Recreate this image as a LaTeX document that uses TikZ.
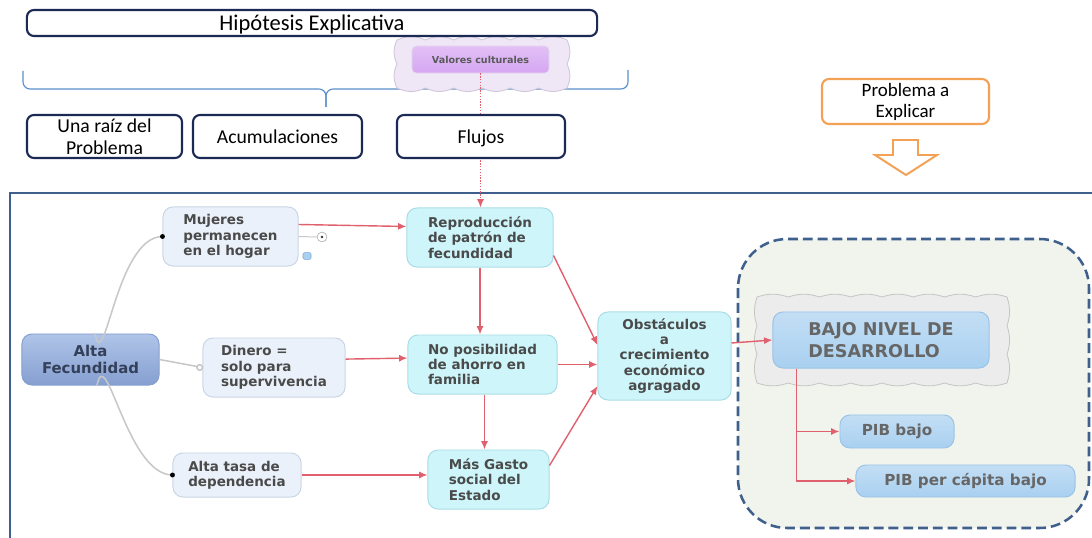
\documentclass[tikz,border=0pt]{standalone}
\usepackage{fontspec}
\setmainfont{Carlito}
\newfontfamily\mapfont{DejaVu Sans}
\usetikzlibrary{arrows.meta}

\definecolor{navyline}{HTML}{1B2A55}
\definecolor{braceblue}{HTML}{5B8FCB}
\definecolor{orangeline}{HTML}{F2A155}
\definecolor{frameblue}{HTML}{3F5F8C}
\definecolor{linkred}{HTML}{E0606E}
\definecolor{stemgray}{HTML}{C8C8C8}
\definecolor{mindfill}{HTML}{EAF1FA}
\definecolor{mindedge}{HTML}{C9D5E5}
\definecolor{flowfill}{HTML}{CDF5FA}
\definecolor{flowedge}{HTML}{A9DCE6}
\definecolor{rootlight}{HTML}{AFC4E8}
\definecolor{rootdark}{HTML}{859FD0}
\definecolor{roottext}{HTML}{34405A}
\definecolor{goalfill}{HTML}{A9D0F0}
\definecolor{goaledge}{HTML}{9AC3E6}
\definecolor{cloudfill}{HTML}{ECECEC}
\definecolor{cloudedge}{HTML}{C6C6C6}
\definecolor{lilacfill}{HTML}{EFE6F6}
\definecolor{lilacedge}{HTML}{CFC6D8}
\definecolor{violetfill}{HTML}{D5A6F2}
\definecolor{panelfill}{HTML}{F1F4EC}
\definecolor{labelgray}{HTML}{4A4A4A}

\begin{document}
\begin{tikzpicture}[x=0.025cm,y=-0.025cm,
  topbox/.style={draw=navyline,line width=1.5pt,rounded corners=5pt,fill=white,
    align=center,inner sep=1pt,font=\fontsize{14}{15.5}\selectfont},
  mindbox/.style={draw=mindedge,line width=0.7pt,rounded corners=7pt,fill=mindfill,
    align=left,inner sep=2pt,text=labelgray,
    font=\mapfont\bfseries\fontsize{9.6}{10.9}\selectfont},
  flowbox/.style={mindbox,draw=flowedge,fill=flowfill},
  goalbox/.style={mindbox,draw=goaledge,top color=goalfill!70!white,
    bottom color=goalfill,text=black!60},
  cloudline/.style={draw=cloudedge,fill=cloudfill,line width=0.6pt},
  link/.style={draw=linkred,line width=1pt,-{Latex[length=6pt,width=5pt]}},
  stem/.style={draw=stemgray,line width=1.1pt},
  tipdot/.style={circle,fill=black,inner sep=0pt,minimum size=3.5pt}
  ]
\useasboundingbox (0,0) rectangle (1092,538);

% frame and panel
\draw[frameblue,line width=2pt] (10,193) rectangle (1130,560);
\draw[frameblue,line width=1.8pt,dash pattern=on 7pt off 3.5pt,fill=panelfill,
  rounded corners=35pt] (738,239) rectangle (1089,528);

% brace
\draw[braceblue,line width=0.8pt,rounded corners=5pt] (23,71) |- (326,89) -- (326,107);
\draw[braceblue,line width=0.8pt,rounded corners=5pt] (628,70) |- (326,89) -- (326,107);

% clouds
\draw[cloudline,draw=lilacedge,fill=lilacfill] (397,40)
  foreach \i in {1,...,6} {to[bend left=25] ++(28.33,0)}
  foreach \i in {1,...,2} {to[bend left=25] ++(0,24)}
  foreach \i in {1,...,6} {to[bend left=25] ++(-28.33,0)}
  foreach \i in {1,...,2} {to[bend left=25] ++(0,-24)} -- cycle;
\draw[cloudline] (757,297)
  foreach \i in {1,...,8} {to[bend left=18] ++(31.25,0)}
  foreach \i in {1,...,3} {to[bend left=18] ++(0,28.67)}
  foreach \i in {1,...,8} {to[bend left=18] ++(-31.25,0)}
  foreach \i in {1,...,3} {to[bend left=18] ++(0,-28.67)} -- cycle;

\node[topbox,minimum width=14.25cm,minimum height=0.65cm,text depth=0pt,
  font=\fontsize{16}{18}\selectfont] (hip) at (312,23) {Hipótesis Explicativa};
\node[rounded corners=3pt,top color=violetfill!70!white,bottom color=violetfill,
  draw=violetfill!80!black!30,minimum width=3.425cm,minimum height=0.675cm,
  inner sep=1pt,text=black!65,font=\mapfont\bfseries\fontsize{6.8}{8}\selectfont]
  (vc) at (480.5,59.5) {Valores culturales};

\node[topbox,minimum width=3.875cm,minimum height=1.075cm] (raiz) at (104.5,136.5)
  {Una raíz del\\Problema};
\node[topbox,minimum width=4.225cm,minimum height=1.075cm,text depth=0pt] (acum)
  at (277.5,136.5) {Acumulaciones};
\node[topbox,draw=orangeline,minimum width=4.175cm,minimum height=1.125cm,
  font=\fontsize{13.5}{15}\selectfont] (prob) at (905.5,101.5) {Problema a\\Explicar};
\draw[orangeline,line width=1.4pt,fill=white,line join=miter] (893,140) -- (918,140)
  -- (918,155) -- (937,155) -- (906,175) -- (875,155) -- (893,155) -- cycle;

% map
\node[mindbox,draw=rootdark,top color=rootlight,bottom color=rootdark,align=center,
  text=roottext,font=\mapfont\bfseries\fontsize{10.6}{12.4}\selectfont,
  minimum width=3.425cm,minimum height=1.275cm] (alta) at (90.5,359.5) {Alta\\Fecundidad};
\node[mindbox,minimum width=3.375cm,minimum height=1.475cm] (mujeres) at (230.5,236.5)
  {Mujeres\\permanecen\\en el hogar};
\node[mindbox,minimum width=3.55cm,minimum height=1.475cm] (dinero) at (274,367.5)
  {Dinero =\\solo para\\supervivencia};
\node[mindbox,minimum width=3.2cm,minimum height=1.1cm] (tasa) at (237,475)
  {Alta tasa de\\dependencia};
\node[flowbox,minimum width=3.65cm,minimum height=1.475cm] (repro) at (480,237.5)
  {Reproducción\\de patrón de\\fecundidad};
\node[flowbox,minimum width=3.725cm,minimum height=1.475cm] (noposib) at (482.5,364.5)
  {No posibilidad\\de ahorro en\\familia};
\node[flowbox,minimum width=3.025cm,minimum height=1.475cm] (gasto) at (488.5,479.5)
  {Más Gasto\\social del\\Estado};
\node[flowbox,align=center,minimum width=3.325cm,minimum height=2.2cm] (obst)
  at (664.5,356) {Obstáculos\\a\\crecimiento\\económico\\agragado};
\node[goalbox,minimum width=5.4cm,minimum height=1.4cm,
  font=\mapfont\bfseries\fontsize{12.5}{15.4}\selectfont] (bajo) at (881,340)
  {BAJO NIVEL DE\\DESARROLLO};
\node[goalbox,align=center,minimum width=2.85cm,minimum height=0.825cm,
  font=\mapfont\bfseries\fontsize{10.8}{12}\selectfont] (pib) at (897,431.5) {PIB bajo};
\node[goalbox,align=center,minimum width=5.475cm,minimum height=0.8cm,
  font=\mapfont\bfseries\fontsize{10.8}{12}\selectfont] (pibpc) at (965.5,481)
  {PIB per cápita bajo};

% small marks next to Mujeres
\node[circle,draw=gray!70,fill=white,inner sep=0pt,minimum size=7pt] (plusmark)
  at (322,237) {};
\node[circle,fill=black!80,inner sep=0pt,minimum size=2pt] (plusdot) at (plusmark) {};
\node[draw=braceblue!80,fill=goalfill,rounded corners=1pt,inner sep=0pt,
  minimum width=0.2cm,minimum height=0.17cm] (notemark) at (307,256) {};
\draw[stem,line width=0.7pt] (mujeres.east) -- (plusmark.west);

% stems
\draw[stem] ([xshift=0.11cm]alta.north) to[out=-78,in=180] (mujeres.west)
  node[tipdot] (dotA) {};
\draw[stem] (alta.east) -- (dinero.west)
  node[circle,draw=stemgray,fill=white,inner sep=0pt,minimum size=4pt,xshift=-2pt] (dotB) {};
\draw[stem] ([xshift=0.16cm]alta.south) to[out=78,in=180] (tasa.west)
  node[tipdot] (dotC) {};

% links
\draw[link,densely dotted,line width=0.9pt] (vc.south) -- (vc.south |- repro.north);
\node[topbox,minimum width=4.2cm,minimum height=1.075cm,text depth=0pt] (flujos)
  at (481,136.5) {Flujos};
\draw[link] ([yshift=0.3cm]mujeres.east) -- ([yshift=0.275cm]repro.west);
\draw[link] ([yshift=0.21cm]dinero.east) -- ([yshift=0.16cm]noposib.west);
\draw[link] (tasa.east) -- (tasa.east -| gasto.west);
\draw[link] (repro.south) -- (repro.south |- noposib.north);
\draw[link] ([xshift=0.05cm]noposib.south) -- ([xshift=0.05cm]noposib.south |- gasto.north);
\draw[link] ([yshift=0.3cm]repro.south east) -- ([yshift=0.275cm]obst.west);
\draw[link] (noposib.east) -- (noposib.east -| obst.west);
\draw[link] ([yshift=-0.4cm]gasto.north east) -- ([yshift=-0.75cm]obst.west);
\draw[link] ([yshift=0.325cm]obst.east) -- (bajo.west);
\draw[link] ([xshift=0.6cm]bajo.south west) |- (pib.west);
\draw[link] ([xshift=0.6cm]bajo.south west) |- (pibpc.west);
\end{tikzpicture}
\end{document}
